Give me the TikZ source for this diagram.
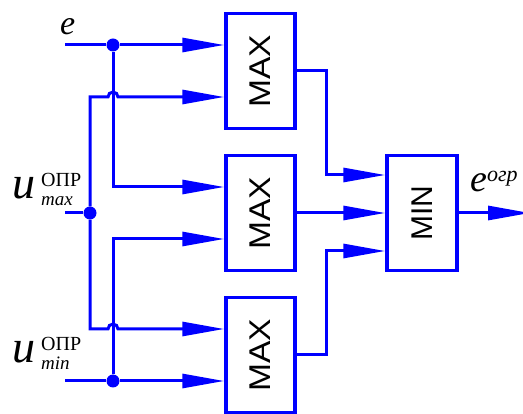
\documentclass[tikz,border=0pt]{standalone}
\usepackage{fontspec}
\setmainfont{Liberation Serif}
\setsansfont{Liberation Sans}
\usepackage{graphicx}
\usetikzlibrary{positioning,arrows.meta}

\begin{document}
\begin{tikzpicture}[
      x=1pt, y=-1pt,
      wire/.style={draw=blue, line width=3pt},
      arr/.style={wire, -{Triangle[length=42pt, width=14pt]}},
      maxbox/.style={draw=blue, line width=3.5pt, minimum width=69pt,
                     minimum height=115pt, inner sep=0pt,
                     font=\sffamily\fontsize{30}{30}\selectfont},
      minbox/.style={maxbox, minimum width=70pt},
      dot/.style={circle, fill=blue, inner sep=0pt, minimum size=13pt},
      lbl/.style={inner sep=0pt, anchor=base west},
  ]
    \useasboundingbox (0,0) rectangle (523,414);

    %% --- Blocks ---
    \node[maxbox] (max1) at (260.5,71) {\rotatebox{90}{\scalebox{1.12}[1]{MAX}}};
    \node[maxbox] (max2) at (260.5,213) {\rotatebox{90}{\scalebox{1.12}[1]{MAX}}};
    \node[maxbox] (max3) at (260.5,355) {\rotatebox{90}{\scalebox{1.12}[1]{MAX}}};
    \node[minbox] (min) at (422,213) {\rotatebox{90}{MIN}};

    %% --- Inputs and branch points ---
    \coordinate (ein) at (65,45);
    \coordinate (umaxin) at (65,213);
    \coordinate (uminin) at (65,381);
    \node[dot] (de) at (113,45) {};
    \node[dot] (dmax) at (90,213) {};
    \node[dot] (dmin) at (113,381) {};

    \draw[wire] (ein) -- (de);
    \draw[arr] (de) -- ([yshift=26pt]max1.west);
    \draw[arr] (de) |- ([yshift=26pt]max2.west);
    \draw[wire] (umaxin) -- (dmax);
    \draw[arr] (dmax) |- (108,97) arc[start angle=180, end angle=360, radius=5]
      -- ([yshift=-26pt]max1.west);
    \draw[arr] (dmax) |- (108,329) arc[start angle=180, end angle=360, radius=5]
      -- ([yshift=26pt]max3.west);
    \draw[wire] (uminin) -- (dmin);
    \draw[arr] (dmin) -- ([yshift=-26pt]max3.west);
    \draw[arr] (dmin) |- ([yshift=-26pt]max2.west);

    %% --- Outputs ---
    \draw[arr] (max1.east) -- ++(30,0) |- ([yshift=38pt]min.west);
    \draw[arr] (max2.east) -- (min.west);
    \draw[arr] (max3.east) -- ++(30,0) |- ([yshift=-38pt]min.west);
    \coordinate (eout) at (530,213);
    \draw[arr] (min.east) -- (eout);

    %% --- Labels ---
    \node[lbl] (le) at (60,35) {\fontsize{34}{34}\selectfont\itshape e};
    \node[lbl] (lmax) at (12,199) {{\fontsize{46}{46}\selectfont\itshape u}\hspace{6pt}%
      \makebox[0pt][l]{\raisebox{12pt}{\fontsize{20}{20}\selectfont ОПР}}%
      \raisebox{-7pt}{\fontsize{19}{19}\selectfont\itshape max}};
    \node[lbl] (lmin) at (12,363) {{\fontsize{46}{46}\selectfont\itshape u}\hspace{6pt}%
      \makebox[0pt][l]{\raisebox{12pt}{\fontsize{20}{20}\selectfont ОПР}}%
      \raisebox{-7pt}{\fontsize{19}{19}\selectfont\itshape min}};
    \node[lbl] (lout) at (470,192) {{\fontsize{38}{38}\selectfont\itshape e}%
      \raisebox{10pt}{\fontsize{22}{22}\selectfont\itshape огр}};
  \end{tikzpicture}
\end{document}
